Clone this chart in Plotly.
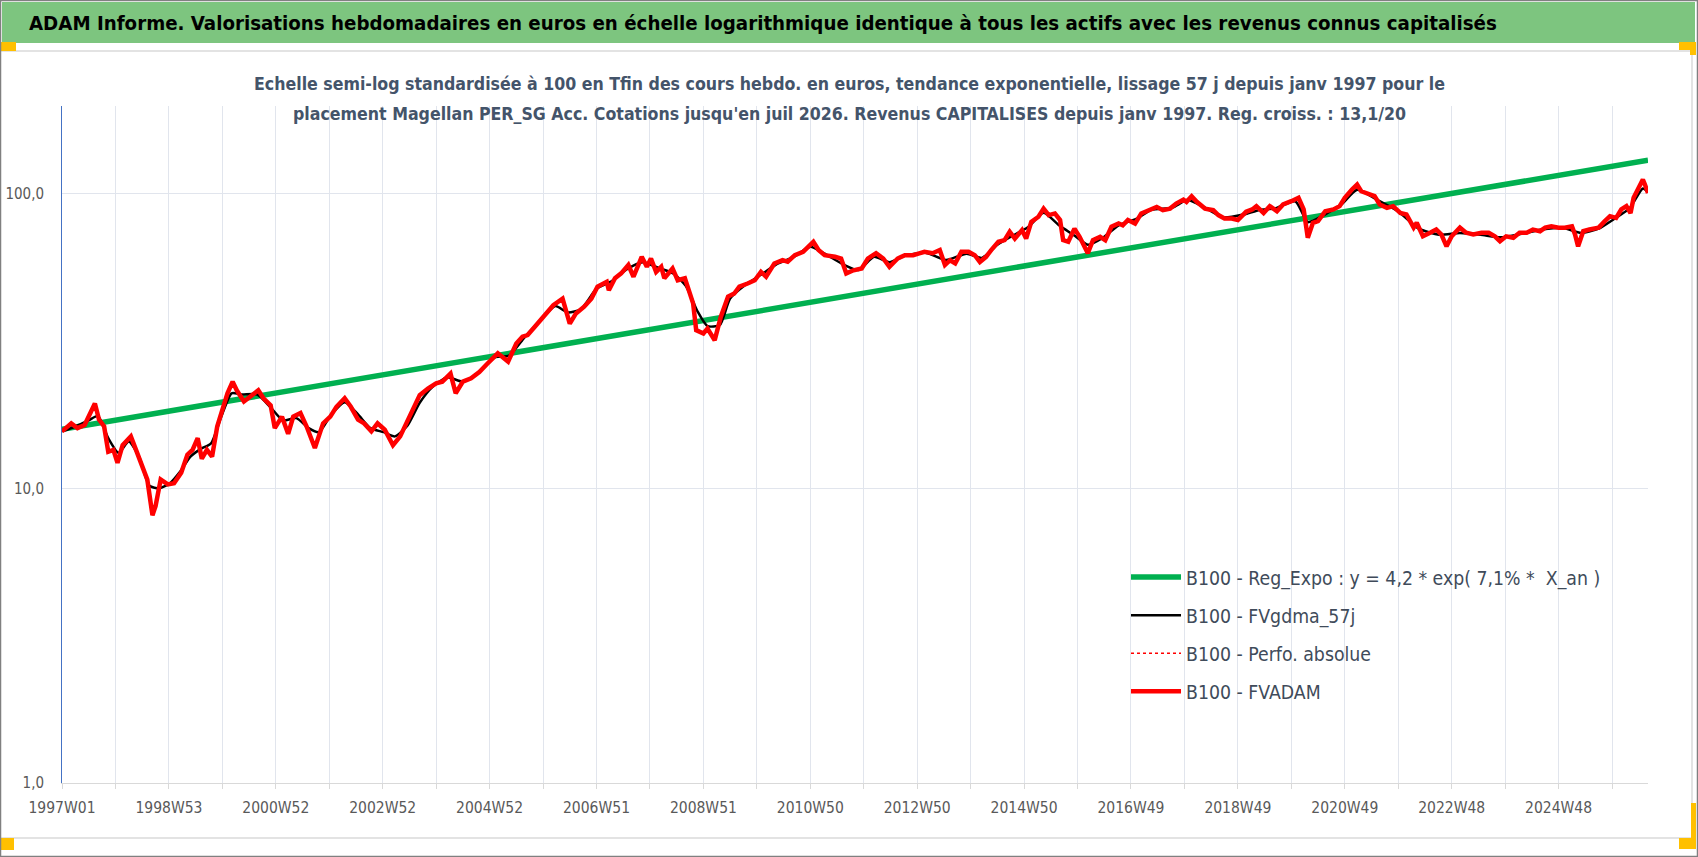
import plotly.graph_objects as go

# Semaines (index depuis 1997W01) et valeurs
RED_W = [0, 9, 15, 22, 32, 36, 41, 45, 50, 54, 59, 67, 72, 78, 83, 88, 91, 96, 103, 109,
         116, 122, 127, 132, 136, 141, 146, 151, 156, 161, 166, 170, 177, 184, 191, 196, 203, 207, 214, 220,
         225, 232, 238, 246, 254, 261, 267, 275, 281, 288, 294, 301, 307, 314, 322, 329, 336, 343, 348, 356,
         364, 370, 378, 383, 390, 398, 406, 414, 424, 434, 442, 448, 453, 460, 470, 478, 487, 494, 500, 508,
         515, 521, 530, 532, 538, 544, 551, 556, 564, 569, 573, 578, 583, 586, 594, 599, 606, 609, 614, 617,
         624, 628, 635, 641, 648, 654, 659, 667, 674, 680, 685, 693, 701, 706, 713, 721, 726, 731, 736, 742,
         752, 758, 763, 770, 778, 784, 792, 799, 805, 813, 820, 828, 834, 839, 847, 854, 859, 864, 869, 875,
         882, 888, 893, 899, 904, 911, 917, 922, 927, 934, 938, 943, 950, 955, 960, 966, 971, 974, 979, 985,
         990, 995, 998, 1003, 1010, 1015, 1021, 1028, 1032, 1037, 1044, 1050, 1057, 1065, 1071, 1078, 1084, 1091, 1094, 1099,
         1104, 1112, 1120, 1125, 1131, 1138, 1144, 1152, 1158, 1162, 1169, 1175, 1182, 1188, 1196, 1203, 1208, 1212, 1217, 1222,
         1229, 1237, 1243, 1248, 1255, 1260, 1264, 1271, 1277, 1282, 1289, 1295, 1302, 1308, 1315, 1318, 1324, 1331, 1337, 1342,
         1347, 1352, 1360, 1366, 1373, 1381, 1388, 1394, 1399, 1405, 1412, 1418, 1425, 1431, 1438, 1443, 1449, 1456, 1462, 1469,
         1472, 1475, 1480, 1486, 1495, 1501, 1506, 1512, 1517, 1522, 1526, 1529, 1534, 1538, 1540, 1543]
RED_V = [15.6, 16.6, 16.0, 16.4, 19.4, 17.1, 16.2, 13.3, 13.5, 12.2, 14.0, 15.0, 13.5, 12.0, 10.7, 8.1, 8.7, 10.7, 10.3, 10.4,
         11.3, 13.0, 13.5, 14.8, 12.6, 13.5, 12.8, 16.2, 18.5, 21.0, 23.0, 21.5, 19.7, 20.7, 21.5, 20.2, 19.1, 16.0, 17.5, 15.3,
         17.5, 18.0, 16.2, 13.7, 16.6, 17.5, 18.9, 20.2, 18.9, 17.1, 16.6, 15.6, 16.6, 15.8, 14.0, 15.0, 16.8, 18.9, 20.7, 21.8,
         22.7, 23.0, 24.5, 21.0, 23.0, 23.6, 24.8, 26.5, 28.7, 26.9, 31.0, 32.7, 33.1, 35.3, 38.7, 41.8, 44.0, 36.2, 39.2, 41.3,
         44.0, 48.3, 50.2, 47.0, 51.6, 53.6, 57.2, 52.2, 61.0, 56.4, 60.2, 54.2, 56.4, 51.6, 55.7, 50.8, 51.6, 47.6, 42.4, 34.4,
         33.5, 34.8, 31.8, 38.2, 44.7, 45.8, 48.3, 49.5, 50.8, 54.2, 52.2, 57.9, 59.4, 58.7, 61.8, 63.4, 65.6, 68.6, 64.3, 61.8,
         61.0, 60.2, 53.6, 54.9, 55.7, 60.2, 62.7, 60.2, 56.4, 60.2, 61.8, 61.8, 62.7, 63.4, 62.7, 64.3, 57.2, 59.4, 58.0, 63.4,
         63.4, 61.8, 58.6, 61.0, 64.3, 68.6, 69.5, 74.2, 70.3, 75.2, 70.3, 80.2, 83.4, 88.9, 84.5, 85.6, 81.3, 69.5, 68.6, 76.0,
         71.3, 65.9, 62.7, 69.5, 71.3, 69.5, 77.1, 79.1, 78.0, 81.3, 79.1, 85.6, 87.8, 90.1, 87.8, 88.9, 92.5, 95.4, 93.7, 97.9,
         93.7, 88.9, 87.8, 84.5, 82.3, 82.3, 81.3, 86.7, 88.3, 90.6, 85.9, 90.6, 87.1, 91.8, 94.2, 96.7, 88.3, 70.8, 79.6, 80.6,
         87.1, 88.3, 90.6, 96.7, 103.2, 107.3, 101.8, 99.3, 98.0, 91.8, 89.4, 90.6, 85.9, 84.9, 76.6, 79.6, 71.6, 73.6, 75.5, 72.6,
         66.2, 71.6, 76.6, 73.6, 72.6, 73.6, 73.6, 71.6, 68.9, 71.6, 70.8, 73.6, 73.6, 75.5, 74.5, 76.6, 77.4, 76.6, 76.6, 77.4,
         72.6, 66.2, 74.5, 75.5, 76.6, 80.6, 83.8, 82.7, 88.3, 90.6, 85.9, 96.7, 105.9, 111.5, 107.3, 100.5]

BLACK_W = [0, 13, 26, 35, 45, 55, 65, 75, 85, 95, 105, 115, 125, 135, 145, 155, 165, 175, 190, 203,
           215, 228, 240, 250, 262, 275, 288, 300, 313, 324, 336, 348, 360, 375, 390, 405, 420, 435, 450, 465,
           480, 492, 505, 520, 535, 550, 565, 580, 595, 607, 618, 628, 640, 650, 665, 680, 695, 712, 728, 742,
           760, 775, 790, 805, 820, 840, 860, 880, 895, 910, 925, 940, 955, 970, 985, 998, 1012, 1028, 1045, 1060,
           1080, 1095, 1112, 1130, 1150, 1165, 1180, 1200, 1212, 1225, 1245, 1260, 1280, 1300, 1320, 1340, 1360, 1380, 1400, 1420,
           1440, 1460, 1478, 1495, 1510, 1525, 1538, 1543]
BLACK_V = [15.6, 16.2, 17.0, 17.6, 14.8, 13.2, 14.4, 12.8, 10.2, 10.0, 10.4, 11.4, 12.8, 13.6, 14.2, 17.5, 21.0, 20.8, 20.8, 18.8,
           17.0, 17.3, 16.0, 15.5, 17.8, 19.6, 17.8, 16.0, 15.5, 15.0, 16.3, 19.5, 22.0, 23.8, 23.0, 24.6, 27.8, 28.2, 32.5, 37.0,
           41.5, 39.5, 40.5, 47.5, 50.5, 55.5, 58.5, 56.0, 53.5, 48.5, 40.0, 35.5, 35.8, 44.0, 49.0, 53.0, 57.5, 61.0, 66.0, 62.5,
           57.5, 55.0, 61.0, 58.5, 61.5, 63.0, 59.5, 62.5, 60.5, 67.0, 72.0, 77.0, 86.0, 78.0, 72.0, 67.0, 70.5, 78.0, 82.0, 88.0,
           89.5, 95.0, 89.5, 83.0, 85.0, 88.0, 89.0, 94.0, 80.0, 83.5, 92.0, 103.0, 95.0, 87.0, 76.0, 72.5, 73.5, 72.5, 71.0, 73.0,
           75.5, 76.5, 73.5, 76.0, 82.0, 89.0, 104.0, 101.0]

GREEN_W = [0, 1543]
GREEN_V = [15.85, 129.8]

X_LABELS = ["1997W01", "1998W53", "2000W52", "2002W52", "2004W52", "2006W51", "2008W51", "2010W50",
            "2012W50", "2014W50", "2016W49", "2018W49", "2020W49", "2022W48", "2024W48"]

NOMS = ["B100 - Reg_Expo : y = 4,2 * exp( 7,1% *  X_an )", "B100 - FVgdma_57j",
        "B100 - Perfo. absolue", "B100 - FVADAM"]

TITRE = ("ADAM Informe. Valorisations hebdomadaires en euros en échelle logarithmique identique "
         "à tous les actifs avec les revenus connus capitalisés")
SOUS_TITRE_1 = ("Echelle semi-log standardisée à 100 en Tfin des cours hebdo. en euros, tendance exponentielle, "
                "lissage 57 j depuis janv 1997 pour le")
SOUS_TITRE_2 = ("placement Magellan PER_SG Acc. Cotations jusqu'en juil 2026. Revenus CAPITALISES "
                "depuis janv 1997. Reg. croiss. : 13,1/20")

FONT = "DejaVu Sans Condensed, Liberation Sans Narrow, sans-serif"
W, H = 1698, 857
L, R, T, B = 62, 1648, 106, 783


def px(x):
    return (x - L) / (R - L)


def py(y):
    return (B - y) / (B - T)


fig = go.Figure()
fig.add_trace(go.Scatter(x=GREEN_W, y=GREEN_V, mode="lines", name=NOMS[0], legendgroup="a",
                         line=dict(color="#00b050", width=5.5)))
fig.add_trace(go.Scatter(x=BLACK_W, y=BLACK_V, mode="lines", name=NOMS[1], legendgroup="b",
                         line=dict(color="#000000", width=2.5, shape="spline", smoothing=0.6)))
fig.add_trace(go.Scatter(x=RED_W, y=RED_V, mode="lines", name=NOMS[2], legendgroup="c",
                         line=dict(color="#ff0000", width=1.5, dash="dot")))
fig.add_trace(go.Scatter(x=RED_W, y=RED_V, mode="lines", name=NOMS[3], legendgroup="d",
                         line=dict(color="#ff0000", width=4.5)))

tickvals = list(range(0, 1509, 52))
ticktext = [X_LABELS[i // 2] if i % 2 == 0 else "" for i in range(len(tickvals))]

fig.update_xaxes(range=[0, 1543], tickvals=tickvals, ticktext=ticktext, showgrid=True,
                 gridcolor="#e1e5ed", gridwidth=1, showline=True, linecolor="#d9d9d9", linewidth=1,
                 ticks="outside", ticklen=5, tickcolor="#d9d9d9", zeroline=False, ticklabelstandoff=5,
                 tickfont=dict(family=FONT, size=15.5, color="#595959"))
fig.update_yaxes(type="log", range=[0, 2.297], tickvals=[1, 10, 100], tickformat=".1f",
                 showgrid=True, gridcolor="#e1e5ed", gridwidth=1, showline=True, linecolor="#4472c4",
                 linewidth=1, ticks="", ticklabelstandoff=14,
                 tickfont=dict(family=FONT, size=15, color="#595959"))

shapes = [
    dict(type="rect", xref="paper", yref="paper", x0=px(2), x1=px(1695), y0=py(2), y1=py(43),
         fillcolor="#7dc57f", line=dict(width=0)),
    dict(type="line", xref="paper", yref="paper", x0=px(0), x1=px(1692), y0=py(51), y1=py(51),
         line=dict(color="#e3e3e3", width=2)),
    dict(type="line", xref="paper", yref="paper", x0=px(0), x1=px(1692), y0=py(838), y1=py(838),
         line=dict(color="#e3e3e3", width=2)),
    dict(type="line", xref="paper", yref="paper", x0=px(1692), x1=px(1692), y0=py(51), y1=py(838),
         line=dict(color="#e3e3e3", width=2)),
    dict(type="rect", xref="paper", yref="paper", x0=px(0), x1=px(16), y0=py(42), y1=py(51),
         fillcolor="#ffc000", line=dict(width=0)),
    dict(type="rect", xref="paper", yref="paper", x0=px(1679), x1=px(1696), y0=py(42), y1=py(50),
         fillcolor="#ffc000", line=dict(width=0)),
    dict(type="rect", xref="paper", yref="paper", x0=px(1690), x1=px(1696), y0=py(50), y1=py(55),
         fillcolor="#ffc000", line=dict(width=0)),
    dict(type="rect", xref="paper", yref="paper", x0=px(0), x1=px(14), y0=py(838), y1=py(850),
         fillcolor="#ffc000", line=dict(width=0)),
    dict(type="rect", xref="paper", yref="paper", x0=px(1679), x1=px(1696), y0=py(838), y1=py(849),
         fillcolor="#ffc000", line=dict(width=0)),
    dict(type="rect", xref="paper", yref="paper", x0=px(1691), x1=px(1696), y0=py(803), y1=py(849),
         fillcolor="#ffc000", line=dict(width=0)),
    dict(type="rect", xref="paper", yref="paper", x0=px(0.5), x1=px(1697.5), y0=py(0.5), y1=py(856.5),
         line=dict(color="#808080", width=1.5)),
]

annotations = [
    dict(text=TITRE, xref="paper", yref="paper", x=px(27), y=py(23), xanchor="left", yanchor="middle",
         showarrow=False, font=dict(family=FONT, size=20.3, color="#000000", weight="bold")),
    dict(text=SOUS_TITRE_1, xref="paper", yref="paper", x=px(849), y=py(84), xanchor="center",
         yanchor="middle", showarrow=False, font=dict(family=FONT, size=17.6, color="#44546a", weight="bold")),
    dict(text=SOUS_TITRE_2, xref="paper", yref="paper", x=px(849), y=py(114), xanchor="center",
         yanchor="middle", showarrow=False, font=dict(family=FONT, size=17.6, color="#44546a", weight="bold")),
]

fig.update_layout(
    width=W, height=H,
    margin=dict(l=L, r=W - R, t=T, b=H - B, autoexpand=False),
    paper_bgcolor="white", plot_bgcolor="white",
    separators=", ",
    showlegend=True,
    legend=dict(x=px(1126), y=py(558), xanchor="left", yanchor="top", bgcolor="rgba(0,0,0,0)",
                font=dict(family=FONT, size=19.3, color="#404b5a"), itemwidth=50, tracegroupgap=10),
    shapes=shapes,
    annotations=annotations,
)

# pas de marge de page autour du graphique
fig.write_html("out.html", config={"displayModeBar": False},
               post_script="document.body.style.margin='0';document.body.style.overflow='hidden';")
